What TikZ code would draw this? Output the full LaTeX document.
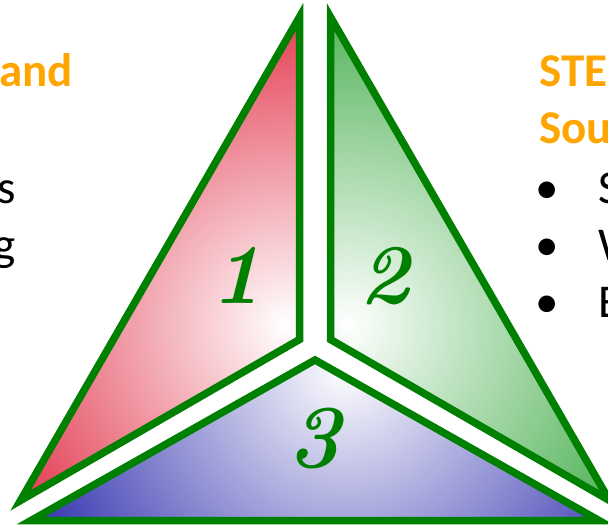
\documentclass[tikz,border=0pt]{standalone}
\usepackage{fontspec}
\newfontfamily\calfont{Carlito}
\definecolor{edgec}{RGB}{0,128,0}
\definecolor{redc}{RGB}{226,56,78}
\definecolor{greenc}{RGB}{80,178,86}
\definecolor{bluec}{RGB}{52,52,176}
\definecolor{orng}{RGB}{255,165,0}
\begin{document}
\begin{tikzpicture}[x=1pt,y=-1pt,
  piece/.style={draw=edgec, line width=7.5pt, line join=miter, miter limit=10},
  num/.style={text=edgec, anchor=base, inner sep=0pt, font=\fontsize{85}{85}\selectfont\bfseries\itshape},
  head/.style={text=orng, inner sep=0pt, font=\calfont\bfseries\fontsize{47}{47}\selectfont},
  body/.style={text=black, inner sep=0pt, font=\calfont\fontsize{47}{47}\selectfont}]
\useasboundingbox (0,0) rectangle (608,527);
\clip (0,0) rectangle (608,527);
% corner coordinates (stroke centre lines)
\coordinate (ra) at (299.5,17);
\coordinate (rb) at (20.5,500.5);
\coordinate (rg) at (299.5,339.5);
\coordinate (ga) at (330.5,17);
\coordinate (gc) at (609.5,500.5);
\coordinate (gg) at (330.5,339.5);
\coordinate (ba) at (315,360);
\coordinate (bb) at (31,520.5);
\coordinate (bc) at (599,520.5);
% red piece
\begin{scope}
  \clip (ra) -- (rb) -- (rg) -- cycle;
  \shade[inner color=white, outer color=redc] (285,325) circle (320);
\end{scope}
\draw[piece] (ra) -- (rb) -- (rg) -- cycle;
% green piece
\begin{scope}
  \clip (ga) -- (gc) -- (gg) -- cycle;
  \shade[inner color=white, outer color=greenc] (348,325) circle (320);
\end{scope}
\draw[piece] (ga) -- (gc) -- (gg) -- cycle;
% blue piece
\begin{scope}
  \clip (ba) -- (bb) -- (bc) -- cycle;
  \shade[inner color=white, outer color=bluec] (345,368) circle (345);
\end{scope}
\draw[piece] (ba) -- (bb) -- (bc) -- cycle;
% numbers
\node[num] (n1) at (237,303) {1};
\node[num] (n2) at (385,303) {2};
\node[num, font=\fontsize{90}{90}\selectfont\bfseries\itshape] (n3) at (314,467) {3};
% left text fragments
\node[head, anchor=base east] (l1) at (73,86) {and};
\node[body, anchor=base east] (l2) at (16,203) {s};
\node[body, anchor=base east] (l3) at (16,260) {g};
% right text fragments
\node[head, anchor=base west] (r1) at (539,86) {STE};
\node[head, anchor=base west] (r2) at (539,143) {Sou};
\node[body, anchor=base] (b1) at (547,203) {\textbullet};
\node[body, anchor=base] (b2) at (547,260) {\textbullet};
\node[body, anchor=base] (b3) at (547,317) {\textbullet};
\node[body, anchor=base west] (t1) at (598,203) {S};
\node[body, anchor=base west] (t2) at (598,260) {W};
\node[body, anchor=base west] (t3) at (598,317) {E};
\end{tikzpicture}
\end{document}
